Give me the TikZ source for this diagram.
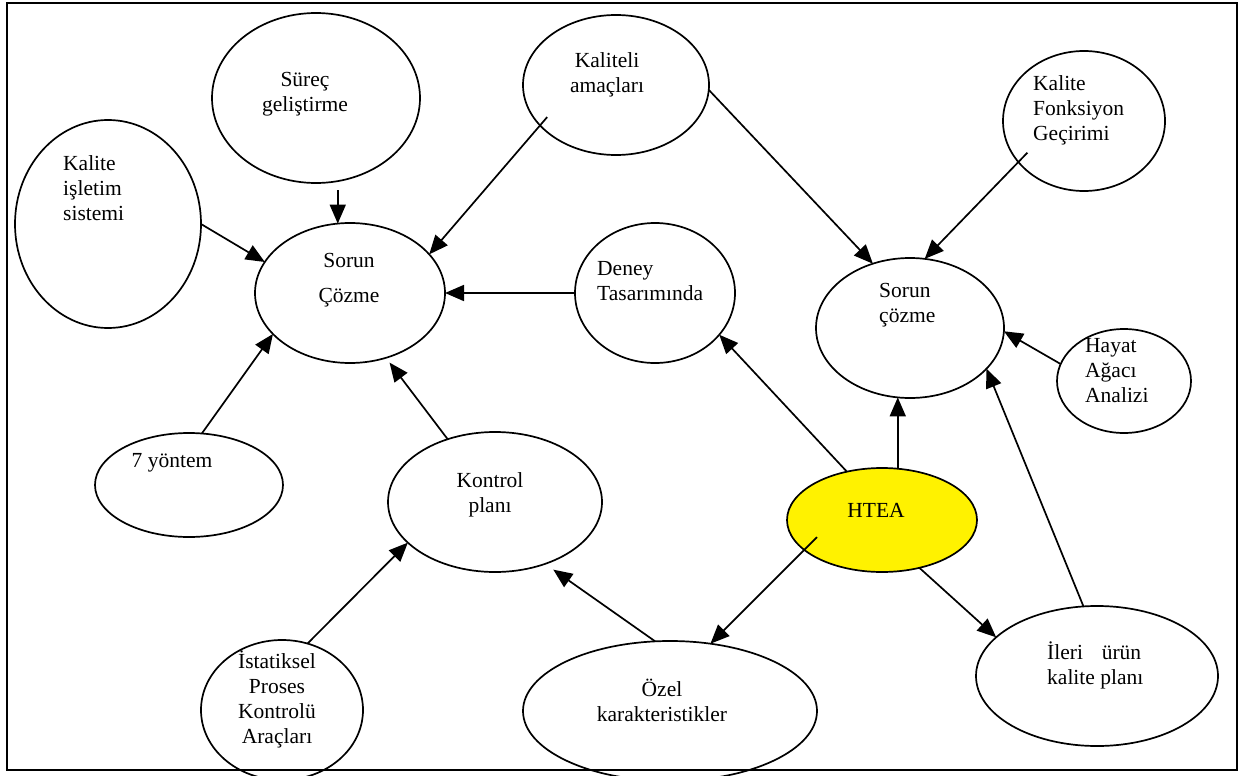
\documentclass[tikz,border=0pt]{standalone}
\usepackage{fontspec}
\setmainfont{Liberation Serif}
\usepackage{tikz}
\usetikzlibrary{
    shapes.geometric,
    arrows.meta
}

\begin{document}
\begin{tikzpicture}[x=1pt, y=-1pt,
    oval/.style={draw, ellipse, line width=1.7pt, inner sep=0pt, outer sep=0pt},
    arr/.style={-{Triangle[length=19pt,width=16pt]}, line width=1.7pt},
    poke/.style={shorten <=#1},
    txt/.style={font=\fontsize{21.5}{25}\selectfont, inner sep=0pt}]
                                \clip (0,0) rectangle (1239,776);
                                \fill[white] (0,0) rectangle (1239,776);
                                \draw[line width=1.5pt] (7,3) rectangle (1237,770);
                                \node[oval, minimum width=208pt, minimum height=170pt] (surec) at (316,98) {};
                                \node[oval, minimum width=186pt, minimum height=208pt] (isletim) at (108,224) {};
                                \node[oval, minimum width=190pt, minimum height=140pt] (sorunA) at (350,293) {};
                                \node[oval, minimum width=186pt, minimum height=140pt] (amac) at (616,85) {};
                                \node[oval, minimum width=160pt, minimum height=140pt] (deney) at (655,293) {};
                                \node[oval, minimum width=162pt, minimum height=140pt] (qfd) at (1084,121) {};
                                \node[oval, minimum width=188pt, minimum height=140pt] (sorunB) at (910,328) {};
                                \node[oval, minimum width=134pt, minimum height=104pt] (hayat) at (1124,381) {};
                                \node[oval, minimum width=188pt, minimum height=104pt] (yontem) at (189,485) {};
                                \node[oval, minimum width=214pt, minimum height=140pt] (kontrol) at (495,502) {};
                                \node[oval, fill=yellow, minimum width=190pt, minimum height=104pt] (htea) at (882,520) {};
                                \node[oval, minimum width=162pt, minimum height=140pt] (ist) at (282,710) {};
                                \node[oval, minimum width=294pt, minimum height=140pt] (ozel) at (670,711) {};
                                \node[oval, minimum width=242pt, minimum height=140pt] (ileri) at (1097,676) {};
                                \node[txt, align=center] (surecT) at (305,94) {Süreç\\geliştirme};
                                \node[txt, align=left, anchor=west] (isletimT) at (63,188) {Kalite\\işletim\\sistemi};
                                \node[txt, align=center] (sorunAT) at (349,280) {Sorun\\[10pt]Çözme};
                                \node[txt, align=center] (amacT) at (607,75) {Kaliteli\\amaçları};
                                \node[txt, align=left, anchor=west] (deneyT) at (597,281) {Deney\\Tasarımında};
                                \node[txt, align=left, anchor=west] (qfdT) at (1033,110) {Kalite\\Fonksiyon\\Geçirimi};
                                \node[txt, align=left, anchor=west] (sorunBT) at (879,305) {Sorun\\çözme};
                                \node[txt, align=left, anchor=west] (hayatT) at (1085,371) {Hayat\\Ağacı\\Analizi};
                                \node[txt] (yontemT) at (172,463) {7 yöntem};
                                \node[txt, align=center] (kontrolT) at (490,495) {Kontrol\\planı};
                                \node[txt] (hteaT) at (876,510) {HTEA};
                                \node[txt, align=center] (istT) at (277,699) {İstatiksel\\Proses\\Kontrolü\\Araçları};
                                \node[txt, align=center] (ozelT) at (662,700) {Özel\\karakteristikler};
                                \node[txt, align=left, anchor=west] (ileriT) at (1047,665) {\hbox to 94pt{İleri\hfil ürün}\\kalite planı};
                                \draw[arr, poke=7pt] (sorunA.100 |- surec.south) -- (sorunA.100);
                                \draw[arr] (isletim.0) -- (sorunA.160);
                                \draw[arr, poke=-11pt] (amac.208) -- (sorunA.26);
                                \draw[arr] (amac.-3) -- (sorunB.120);
                                \draw[arr, poke=-13pt] (qfd.212) -- (sorunB.78);
                                \draw[arr] (hayat.165) -- (sorunB.-2);
                                \draw[arr] (deney.west) -- (sorunA.east);
                                \draw[arr] (yontem.76) -- (sorunA.208);
                                \draw[arr, shorten >=6pt] (kontrol.127) -- (sorunA.-61);
                                \draw[arr] (htea.126) -- (deney.-33);
                                \draw[arr] (sorunB.-100 |- htea.north) -- (sorunB.-100);
                                \draw[arr, poke=-18pt] (htea.201) -- (ozel.59);
                                \draw[arr] (htea.-52) -- (ileri.159);
                                \draw[arr] (ileri.101) -- (sorunB.-28);
                                \draw[arr, shorten >=10pt] (ozel.102) -- (kontrol.-51);
                                \draw[arr] (ist.69) -- (kontrol.205);
\end{tikzpicture}
\end{document}
